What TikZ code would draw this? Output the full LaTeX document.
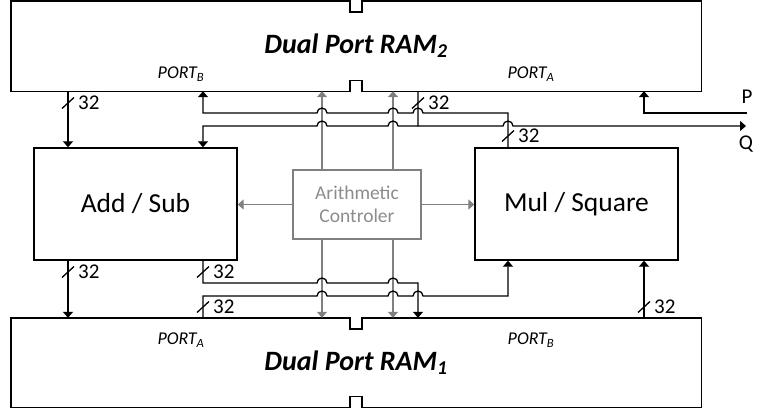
\documentclass[tikz,border=0pt]{standalone}
\usepackage{fontspec}
\setmainfont{Carlito}
\usetikzlibrary{positioning, arrows.meta, calc}
\definecolor{ctrlgray}{RGB}{128,128,128}
\definecolor{ctrltext}{RGB}{140,140,140}
\tikzset{
  block/.style={rectangle, draw=black, line width=1.4pt, minimum width=203pt, minimum height=112pt, inner sep=0pt, font=\fontsize{27.5}{30}\selectfont},
  ram/.style={rectangle, minimum width=690pt, minimum height=90pt, inner sep=0pt, font=\fontsize{28}{30}\selectfont\bfseries\itshape},
  ctrl/.style={rectangle, draw=ctrlgray, line width=1.2pt, minimum width=128pt, minimum height=69pt, text=ctrltext, align=center, font=\fontsize{19.5}{23.5}\selectfont},
  port/.style={inner sep=0pt, font=\fontsize{18}{20}\selectfont\itshape},
  buswidth/.style={anchor=west, inner sep=0pt, font=\fontsize{21}{23}\selectfont},
  pin/.style={inner sep=1pt, font=\fontsize{21}{23}\selectfont},
  wire/.style={line width=1.3pt},
  ctrlwire/.style={draw=ctrlgray, line width=1.3pt}
}
% contour of a RAM with its two notches
\newcommand{\ramoutline}[1]{
    \draw[line width=1.4pt] (#1.north west) -- ([xshift=-6pt]#1.north) -- ++(0,11) -- ++(12,0) -- ++(0,-11)
        -- (#1.north east) -- (#1.south east) -- ([xshift=6pt]#1.south) -- ++(0,-11) -- ++(-12,0) -- ++(0,11)
        -- (#1.south west) -- cycle;
}
% hop over a vertical wire (column #1, level #2)
\newcommand{\hop}[2]{-- ([xshift=-5pt]#1 |- #2) arc (180:360:5)}

\begin{document}
\begin{tikzpicture}[x=1pt, y=-1pt, >={Triangle[width=10pt,length=6pt]}]
    \useasboundingbox (0,0) rectangle (760,410);

    % 1. RAMs
    \node[ram] (ram2) at (356,46) {Dual Port RAM\textsubscript{2}};
    \node[ram, minimum height=89pt] (ram1) at (356,362.5) {Dual Port RAM\textsubscript{1}};
    \ramoutline{ram2}
    \ramoutline{ram1}
    \node[port] (r2pb) at (181,74) {PORT\textsubscript{B}};
    \node[port] (r2pa) at (531,74) {PORT\textsubscript{A}};
    \node[port] (r1pa) at (181,340) {PORT\textsubscript{A}};
    \node[port] (r1pb) at (531,340) {PORT\textsubscript{B}};

    % 2. Arithmetic units
    \node[block] (add) at (135.5,204) {Add / Sub};
    \node[block] (mul) at (576.5,204) {Mul / Square};
    \node[ctrl] (ctrl) at (357,204.5) {Arithmetic\\Controler};

    % columns and levels of the buses
    \coordinate (c1) at (68,0);
    \coordinate (c2) at (203,0);
    \coordinate (g1) at (322,0);
    \coordinate (g2) at (393,0);
    \coordinate (c3) at (418,0);
    \coordinate (c4) at (508,0);
    \coordinate (c5) at (644,0);
    \coordinate (l1) at (0,113);
    \coordinate (l2) at (0,126);
    \coordinate (l3) at (0,283);
    \coordinate (l4) at (0,296);
    \coordinate (pend) at (747,113);
    \coordinate (qend) at (746,126);

    % control lines (gray)
    \foreach \g in {g1,g2} {
        \draw[ctrlwire,->] (ctrl.north -| \g) -- (ram2.south -| \g);
        \draw[ctrlwire,->] (ctrl.south -| \g) -- (ram1.north -| \g);
    }
    \draw[ctrlwire,->] (ctrl.west) -- (ctrl.west -| add.east);
    \draw[ctrlwire,->] (ctrl.east) -- (ctrl.east -| mul.west);

    % -------------------------------------------------------------
    % Buses around RAM 2
    % -------------------------------------------------------------
    \draw[wire,->] (ram2.south -| c1) -- (add.north -| c1);
    \draw[wire,<-] (ram2.south -| c2) -- (c2 |- l1) \hop{g1}{l1} \hop{g2}{l1} \hop{c3}{l1} -- (c4 |- l1) -- (mul.north -| c4);
    \draw[wire,->] (ram2.south -| c3) -- (c3 |- l2) \hop{c4}{l2} -- (qend);
    \draw[wire,<-] (add.north -| c2) -- (c2 |- l2) \hop{g1}{l2} \hop{g2}{l2} -- (c3 |- l2);
    \draw[wire,<-] (ram2.south -| c5) -- (c5 |- l1) -- (pend);
    \node[pin, above=8pt] (plabel) at (pend) {P};
    \node[pin, below=9pt] (qlabel) at (qend) {Q};

    % -------------------------------------------------------------
    % Buses around RAM 1
    % -------------------------------------------------------------
    \draw[wire,->] (add.south -| c1) -- (ram1.north -| c1);
    \draw[wire,->] (add.south -| c2) -- (c2 |- l3) \hop{g1}{l3} \hop{g2}{l3} -- (c3 |- l3) -- (ram1.north -| c3);
    \draw[wire,->] (ram1.north -| c2) -- (c2 |- l4) \hop{g1}{l4} \hop{g2}{l4} \hop{c3}{l4} -- (c4 |- l4) -- (mul.south -| c4);
    \draw[wire,->] (ram1.north -| c5) -- (mul.south -| c5);

    % bus widths
    \foreach \bx/\by [count=\k] in {68/103, 418/103, 508/136, 68/272, 203/272, 203/307, 644/307} {
        \draw[wire] (\bx-6,\by+5.5) -- (\bx+6,\by-5.5);
        \node[buswidth] (w\k) at (\bx+10,\by) {32};
    }

\end{tikzpicture}
\end{document}
